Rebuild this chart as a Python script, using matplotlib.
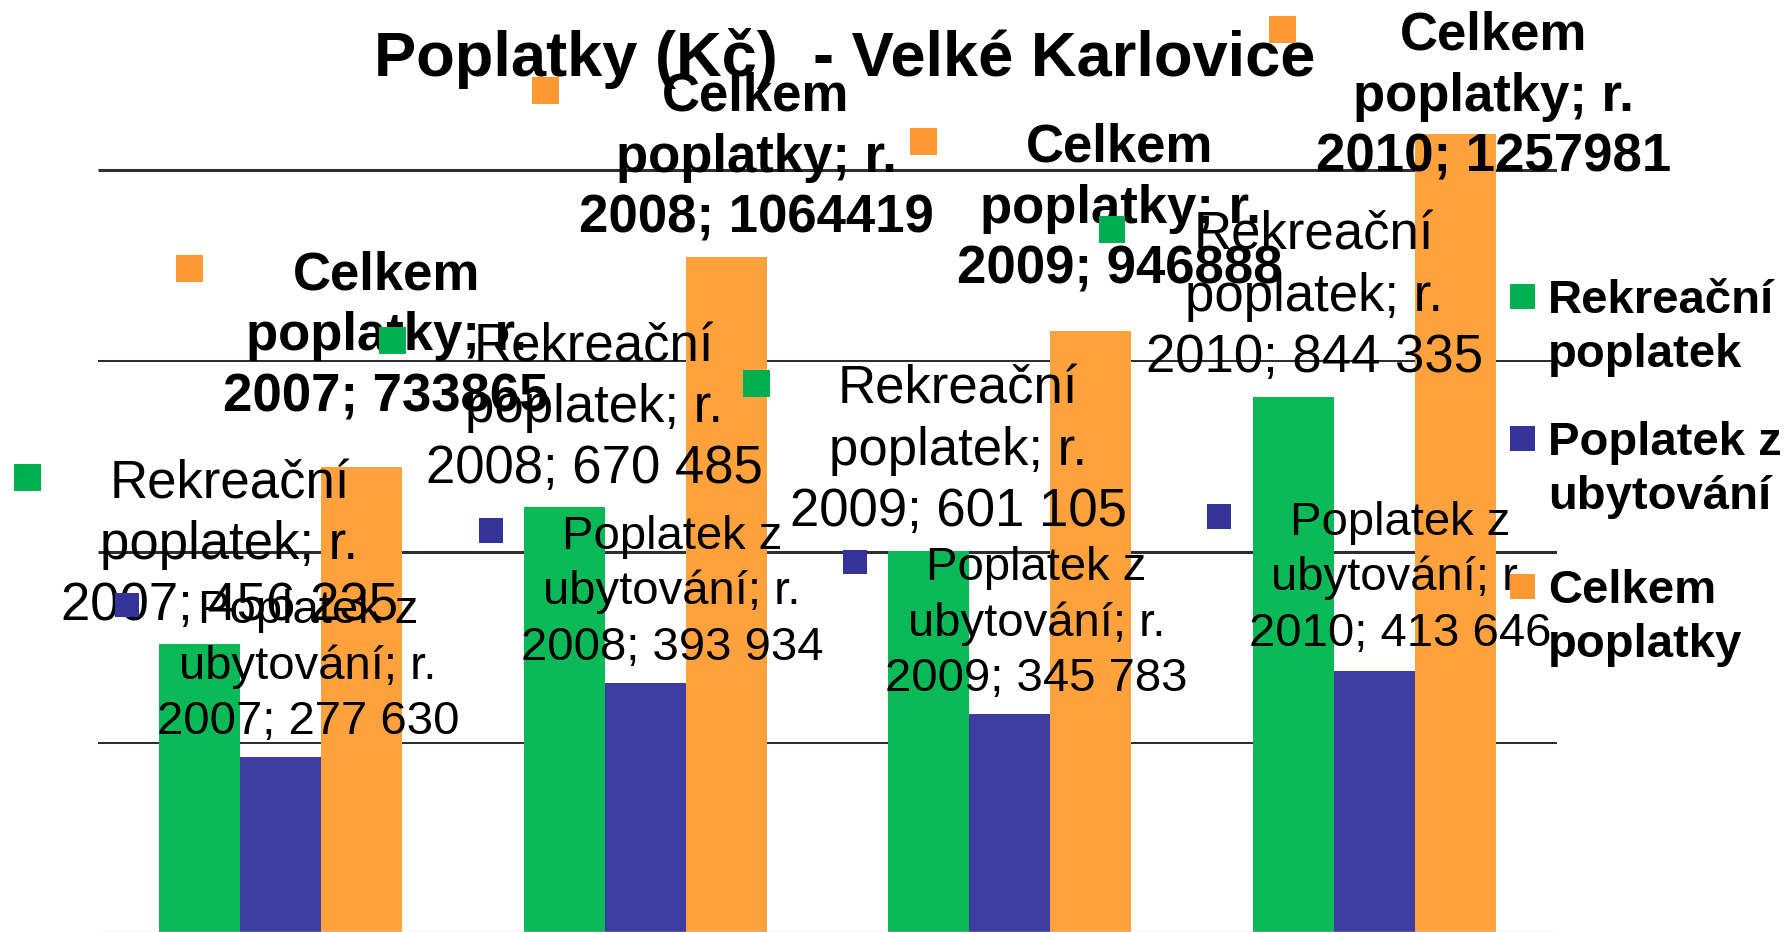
import matplotlib
matplotlib.use("Agg")
import matplotlib.pyplot as plt
from matplotlib.patches import Rectangle
from matplotlib.lines import Line2D
import numpy as np

plt.rcParams['font.family'] = ['Liberation Sans', 'DejaVu Sans']

W, H, DPI = 1791, 932, 100

# ---------------- data ----------------
title = "Poplatky (Kč)  - Velké Karlovice"
categories = ["r. 2007", "r. 2008", "r. 2009", "r. 2010"]
series_names = ["Rekreační poplatek", "Poplatek z ubytování", "Celkem poplatky"]
rekreacni = [456235, 670485, 601105, 844335]
ubytovani = [277630, 393934, 345783, 413646]
celkem = [733865, 1064419, 946888, 1257981]
gridline_values = [300000, 600000, 900000, 1200000]

# ---------------- style / layout ----------------
bar_colors = ['#0cb957', '#3d3ca0', '#ffa13c']
key_colors = ['#00b050', '#333399', '#ff9933']
grid_widths = [1.45, 2.2, 1.45, 2.2]

# data-label anchors (x in category units, y = first baseline in value units)
label_x = [[-0.1395, 0.860, 1.858, 2.834],
           [0.076, 1.074, 2.073, 3.070],
           [0.290, 1.304, 2.302, 3.327]]
label_y = [[685000, 900000, 833000, 1075000],
           [488500, 605000, 556000, 627000],
           [1013500, 1293500, 1213500, 1389500]]
label_size = [38, 34, 38]
label_weight = ['normal', 'normal', 'bold']
label_step_px = [61, 55.5, 61]

legend_key_x = 1510
legend_text_x = 1548
legend_baselines = [313, 455, 603]
legend_step_px = 54
legend_size = 34

series = [rekreacni, ubytovani, celkem]


def fmt(i, v):
    if i < 2:
        return f"{v:,}".replace(",", " ")
    return str(v)


fig = plt.figure(figsize=(W / DPI, H / DPI), dpi=DPI)
fig.patch.set_facecolor('white')
ax = fig.add_axes([98 / W, -1.8 / H, 1459 / W, 933.8 / H])
ax.set_xlim(-0.5, 3.5)
ax.set_ylim(0, 1467900)
ax.axis('off')

x = np.arange(len(categories))
w = 2 / 9
ax.hlines(gridline_values, -0.5, 3.5, colors='#2e2e2e', linewidths=grid_widths, zorder=1)
for i, vals in enumerate(series):
    ax.bar(x + (i - 1) * w, vals, width=w, color=bar_colors[i], zorder=2, linewidth=0)

# data labels
label_texts = []
for i, vals in enumerate(series):
    words = series_names[i].split()
    for j, v in enumerate(vals):
        cat_r, cat_year = categories[j].split()
        lines = [" ".join(words[:-1]),
                 f"{words[-1]}; {cat_r}",
                 f"{cat_year}; {fmt(i, v)}"]
        arts = []
        for k, line in enumerate(lines):
            t = ax.annotate(line, xy=(label_x[i][j], label_y[i][j]),
                            xytext=(0, -k * label_step_px[i] * 72 / DPI),
                            textcoords='offset points', ha='center', va='baseline',
                            fontsize=label_size[i], fontweight=label_weight[i],
                            color='black', zorder=5, annotation_clip=False)
            arts.append(t)
        label_texts.append((i, j, arts))

# title
fig.text(845 / W, 1 - 76 / H, title, ha='center', va='baseline',
         fontsize=45.5, fontweight='bold', color='black', zorder=3)

# legend (manual, keys aligned with first line)
for i, name in enumerate(series_names):
    words = name.split()
    lines = [" ".join(words[:-1]), words[-1]]
    for k, line in enumerate(lines):
        yb = legend_baselines[i] + k * legend_step_px
        fig.text(legend_text_x / W, 1 - yb / H, line, ha='left', va='baseline',
                 fontsize=legend_size, fontweight='bold', color='black', zorder=4)
    s = 25
    cy = legend_baselines[i] - 16.5
    fig.add_artist(Rectangle((legend_key_x / W, 1 - (cy + s / 2) / H), s / W, s / H,
                             transform=fig.transFigure, color=key_colors[i],
                             linewidth=0, zorder=6))

# keys for data labels, placed left of each text block
fig.canvas.draw()
renderer = fig.canvas.get_renderer()
for i, j, arts in label_texts:
    em = label_size[i] * DPI / 72
    left = min(a.get_window_extent(renderer).x0 for a in arts)
    base = ax.transData.transform((label_x[i][j], label_y[i][j]))[1]
    s = 0.51 * em
    right = left - 0.38 * em
    cy = base + 0.39 * em
    fig.add_artist(Rectangle(((right - s) / W, (cy - s / 2) / H), s / W, s / H,
                             transform=fig.transFigure, color=key_colors[i],
                             linewidth=0, zorder=6))

# faint plot-area bottom line
fig.add_artist(Line2D([98 / W, 1557 / W], [1 - 931.5 / H] * 2, transform=fig.transFigure,
                      color='#d6d6d6', linewidth=1.0, zorder=1))

fig.savefig('out.png', dpi=DPI, facecolor='white')
